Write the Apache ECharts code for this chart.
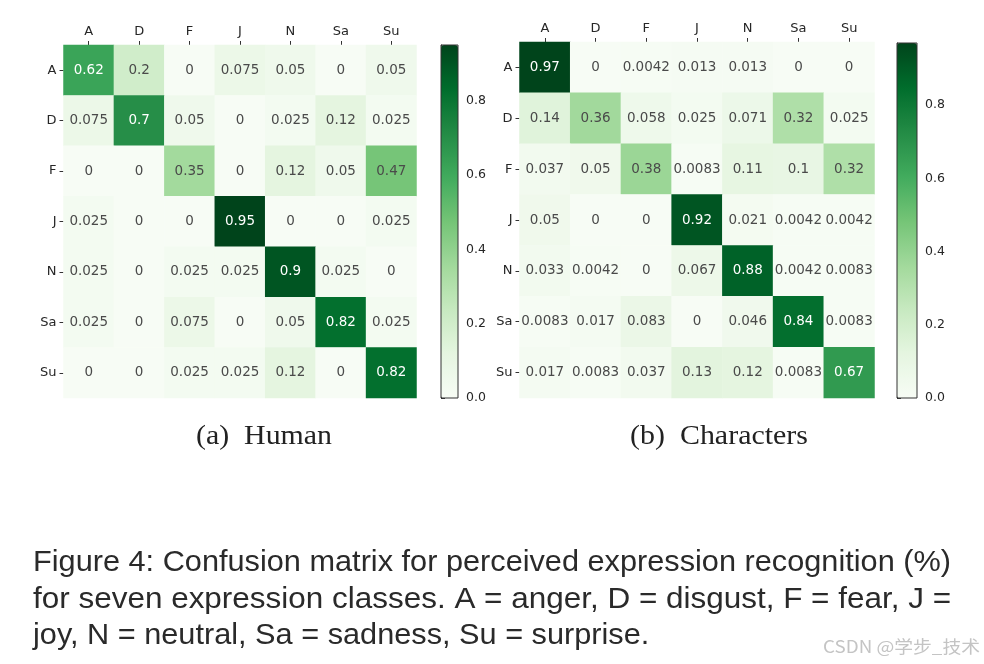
<!DOCTYPE html>
<html>
<head>
<meta charset="utf-8">
<script src="https://cdn.jsdelivr.net/npm/echarts@6/dist/echarts.min.js"></script>
<style>
html,body{margin:0;padding:0;background:#fff;}
#chart{width:984px;height:664px;}
</style>
</head>
<body>
<div id="chart"></div>
<script>
const categories = ['A', 'D', 'F', 'J', 'N', 'Sa', 'Su'];
const humanMatrix = [
  [0.62, 0.2, 0, 0.075, 0.05, 0, 0.05],
  [0.075, 0.7, 0.05, 0, 0.025, 0.12, 0.025],
  [0, 0, 0.35, 0, 0.12, 0.05, 0.47],
  [0.025, 0, 0, 0.95, 0, 0, 0.025],
  [0.025, 0, 0.025, 0.025, 0.9, 0.025, 0],
  [0.025, 0, 0.075, 0, 0.05, 0.82, 0.025],
  [0, 0, 0.025, 0.025, 0.12, 0, 0.82]
];
const charactersMatrix = [
  [0.97, 0, 0.0042, 0.013, 0.013, 0, 0],
  [0.14, 0.36, 0.058, 0.025, 0.071, 0.32, 0.025],
  [0.037, 0.05, 0.38, 0.0083, 0.11, 0.1, 0.32],
  [0.05, 0, 0, 0.92, 0.021, 0.0042, 0.0042],
  [0.033, 0.0042, 0, 0.067, 0.88, 0.0042, 0.0083],
  [0.0083, 0.017, 0.083, 0, 0.046, 0.84, 0.0083],
  [0.017, 0.0083, 0.037, 0.13, 0.12, 0.0083, 0.67]
];
const humanMax = 0.95;
const charactersMax = 0.97;
const colorbarTicks = [0, 0.2, 0.4, 0.6, 0.8];
const subTitles = ['(a)  Human', '(b)  Characters'];
const captionLines = [
  'Figure 4: Confusion matrix for perceived expression recognition (%)',
  'for seven expression classes. A = anger, D = disgust, F = fear, J =',
  'joy, N = neutral, Sa = sadness, Su = surprise.'
];
const watermark = 'CSDN @学步_技术';

const greens = ['#f7fcf5', '#e5f5e0', '#c7e9c0', '#a1d99b', '#74c476', '#41ab5d', '#238b45', '#006d2c', '#00441b'];
const tickFont = 'DejaVu Sans';

function toData(mat, max) {
  const out = [];
  mat.forEach((row, r) => row.forEach((v, c) => {
    out.push({ value: [c, r, v], label: { color: v / max > 0.55 ? '#ffffff' : '#4a4a4a' } });
  }));
  return out;
}

const heatGrids = [
  { left: 63.5, top: 45, width: 353, height: 353 },
  { left: 519.5, top: 42, width: 355, height: 356 }
];
const barGrids = [
  { left: 441, top: 45, width: 17, height: 353 },
  { left: 897, top: 43, width: 20, height: 355 }
];

const chart = echarts.init(document.getElementById('chart'), null, { renderer: 'canvas' });

function heatX(i) {
  return {
    type: 'category', gridIndex: i, data: categories, position: 'top',
    axisLine: { show: false },
    axisTick: { show: true, alignWithLabel: true, length: 4, lineStyle: { color: '#333' } },
    axisLabel: { fontFamily: tickFont, fontSize: 13, color: '#262626', margin: 7 },
    splitLine: { show: false }
  };
}
function heatY(i) {
  return {
    type: 'category', gridIndex: i, data: categories, inverse: true,
    axisLine: { show: false },
    axisTick: { show: true, alignWithLabel: true, length: 4, lineStyle: { color: '#333' } },
    axisLabel: { fontFamily: tickFont, fontSize: 13, color: '#262626', margin: 7 },
    splitLine: { show: false }
  };
}
function barX(i) {
  return { type: 'value', gridIndex: i, show: false, min: 0, max: 1 };
}
function barY(i, max) {
  return {
    type: 'value', gridIndex: i, position: 'right', min: 0, max: max,
    axisLine: { show: true, lineStyle: { color: '#333' } },
    axisTick: { show: true, length: 4, lineStyle: { color: '#333' }, customValues: colorbarTicks },
    axisLabel: { fontFamily: tickFont, fontSize: 12.5, color: '#262626', margin: 8, customValues: colorbarTicks,
      formatter: v => v.toFixed(1) },
    splitLine: { show: false }
  };
}

const ctx = document.createElement('canvas').getContext('2d');
function fitText(text, font, x, y, width, fill, scaleOverride) {
  ctx.font = font;
  const w = ctx.measureText(text).width;
  const s = scaleOverride || (width / w);
  return { el: { type: 'text', x: x, y: y, scaleX: s,
    style: { text: text, font: font, fill: fill, textVerticalAlign: 'middle', textAlign: 'left' } }, scale: s };
}

const graphics = [];
graphics.push(fitText(subTitles[0], '27px "Liberation Serif"', 196, 437, 136, '#222').el);
graphics.push(fitText(subTitles[1], '27px "Liberation Serif"', 630, 437, 178, '#222').el);

const capFont = '29px "Liberation Sans"';
const capY = [563, 600, 636];
const first = fitText(captionLines[0], capFont, 33, capY[0], 918, '#2a2a2a');
graphics.push(first.el);
graphics.push(fitText(captionLines[1], capFont, 33, capY[1], 918, '#2a2a2a').el);
graphics.push(fitText(captionLines[2], capFont, 33, capY[2], 0, '#2a2a2a', first.scale).el);
graphics.push(fitText(watermark, '17px "Noto Sans CJK SC"', 823, 647, 157, '#c4c4c4').el);

const option = {
  backgroundColor: '#ffffff',
  animation: false,
  grid: [
    Object.assign({ show: false }, heatGrids[0]),
    Object.assign({ show: false }, heatGrids[1]),
    Object.assign({ show: true, borderColor: '#333', borderWidth: 1, backgroundColor: 'transparent', z: 10 }, barGrids[0]),
    Object.assign({ show: true, borderColor: '#333', borderWidth: 1, backgroundColor: 'transparent', z: 10 }, barGrids[1])
  ],
  xAxis: [heatX(0), heatX(1), barX(2), barX(3)],
  yAxis: [heatY(0), heatY(1), barY(2, humanMax), barY(3, charactersMax)],
  visualMap: [
    { type: 'continuous', seriesIndex: 0, min: 0, max: humanMax, calculable: false, inRange: { color: greens },
      left: barGrids[0].left, top: barGrids[0].top, itemWidth: barGrids[0].width, itemHeight: barGrids[0].height,
      padding: 0, text: null, showLabel: false, textGap: 0, hoverLink: false },
    { type: 'continuous', seriesIndex: 1, min: 0, max: charactersMax, calculable: false, inRange: { color: greens },
      left: barGrids[1].left, top: barGrids[1].top, itemWidth: barGrids[1].width, itemHeight: barGrids[1].height,
      padding: 0, text: null, showLabel: false, textGap: 0, hoverLink: false }
  ],
  series: [
    { type: 'heatmap', xAxisIndex: 0, yAxisIndex: 0, data: toData(humanMatrix, humanMax),
      label: { show: true, fontFamily: tickFont, fontSize: 13.5, formatter: p => String(p.value[2]) },
      itemStyle: { borderWidth: 0 } },
    { type: 'heatmap', xAxisIndex: 1, yAxisIndex: 1, data: toData(charactersMatrix, charactersMax),
      label: { show: true, fontFamily: tickFont, fontSize: 13.5, formatter: p => String(p.value[2]) },
      itemStyle: { borderWidth: 0 } }
  ],
  graphic: graphics
};
chart.setOption(option);
</script>
</body>
</html>
